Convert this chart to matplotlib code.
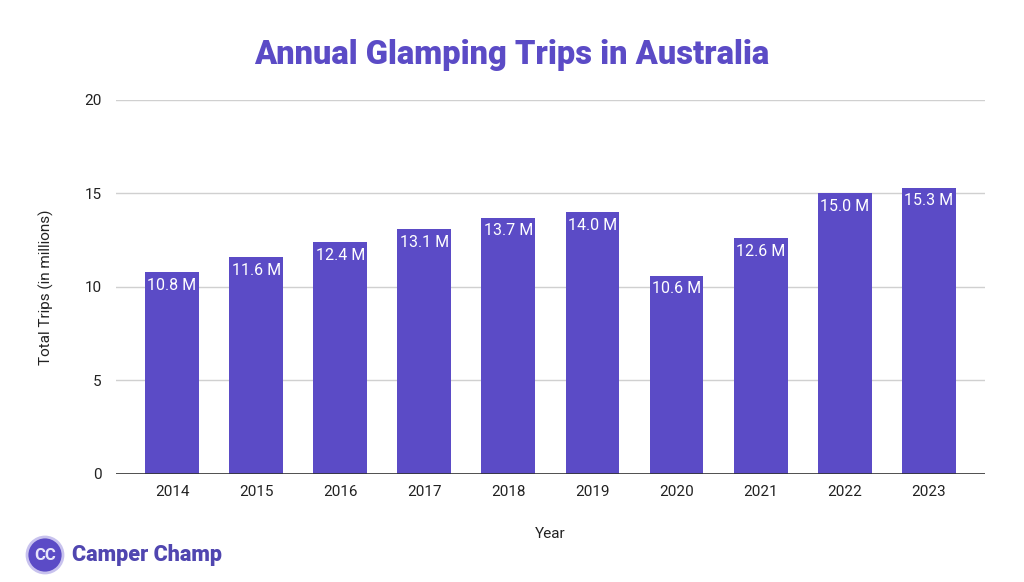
import matplotlib.pyplot as plt
from matplotlib.patches import Ellipse

years = ["2014", "2015", "2016", "2017", "2018", "2019", "2020", "2021", "2022", "2023"]
trips = [10.8, 11.6, 12.4, 13.1, 13.7, 14.0, 10.6, 12.6, 15.0, 15.3]
y_ticks = [0, 5, 10, 15, 20]

PURPLE = "#5B4BC6"
plt.rcParams["font.family"] = ["Roboto", "DejaVu Sans"]

fig = plt.figure(figsize=(10.24, 5.82), dpi=100)
ax = fig.add_axes([0.113, 0.1856, 0.849, 0.6426])

x = range(len(years))
bars = ax.bar(x, trips, width=0.64, color=PURPLE, zorder=3)
for b, v in zip(bars, trips):
    ax.text(b.get_x() + b.get_width() / 2, v - 0.3, f"{v:.1f} M",
            ha="center", va="top", color="white", fontsize=11.5, zorder=4)

ax.set_xlim(-0.67, len(years) - 0.33)
ax.set_ylim(0, 20)
ax.set_yticks(y_ticks)
ax.set_xticks(list(x))
ax.set_xticklabels(years)
ax.grid(axis="y", color="#d0d0d0", linewidth=1, zorder=0)
ax.axhline(0, color="#333333", linewidth=1.2, zorder=5)
for s in ax.spines.values():
    s.set_visible(False)
ax.tick_params(length=0, labelsize=11, labelcolor="#222222", pad=8)
ax.tick_params(axis="y", pad=10)

ax.set_xlabel("Year", fontsize=11, color="#222222", labelpad=20)
ax.set_ylabel("Total Trips (in millions)", fontsize=11, color="#222222", labelpad=22)

fig.text(0.5, 1 - 55 / 582, "Annual Glamping Trips in Australia", ha="center", va="center",
         fontsize=23.5, fontweight="black", color=PURPLE)

# logo
cx, cy = 45 / 1024, 1 - 555 / 582
logo = Ellipse((cx, cy), 36 / 1024, 36 / 582, transform=fig.transFigure,
               facecolor=PURPLE, edgecolor="#c8c2ee", linewidth=2)
fig.patches.append(logo)
fig.text(cx, cy, "CC", ha="center", va="center", fontsize=12,
         fontweight="bold", color="#e8e5fa")
fig.text(72 / 1024, cy, "Camper Champ", ha="left", va="center",
         fontsize=15.5, fontweight="black", color="#5046b0")

fig.savefig("out.png", dpi=100)
